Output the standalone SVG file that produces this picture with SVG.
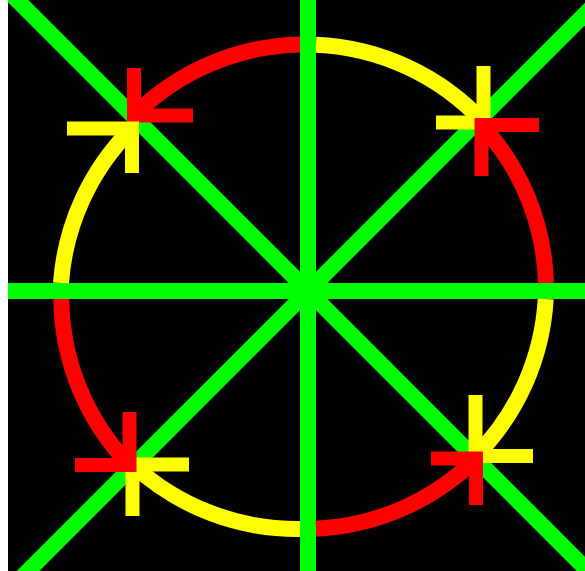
<svg xmlns="http://www.w3.org/2000/svg" width="585" height="571" viewBox="0 0 585 571">
  <style>
    .axis { stroke: #00ff00; stroke-width: 16; fill: none; }
    .arc { stroke-width: 16; fill: none; }
    .head { stroke-width: 14; fill: none; stroke-linejoin: miter; stroke-linecap: butt; }
    .red { stroke: #ff0000; }
    .yellow { stroke: #ffff00; }
  </style>
  <defs>
    <clipPath id="frame">
      <rect x="8" y="0" width="577" height="571"/>
    </clipPath>
  </defs>
  <rect x="0" y="0" width="585" height="571" fill="#ffffff"/>
  <rect id="background" x="8" y="0" width="577" height="571" fill="#000000"/>
  <g id="axes" clip-path="url(#frame)">
    <line class="axis" x1="308" y1="-10" x2="308" y2="581"/>
    <line class="axis" x1="0" y1="291" x2="595" y2="291"/>
    <line class="axis" x1="7" y1="-10" x2="598" y2="581"/>
    <line class="axis" x1="609" y1="-10" x2="18" y2="581"/>
  </g>
  <g id="connectors">
    <g id="top-left-red">
      <path class="arc red" d="M300,44.5 A242.5,242.5 0 0 0 134,115.5"/>
      <polyline class="head red" points="134,68 134,115.5 193,115.5"/>
    </g>
    <g id="top-right-yellow">
      <path class="arc yellow" d="M316,44.8 A242.5,242.5 0 0 1 483.5,122.5"/>
      <polyline class="head yellow" points="483.5,66 483.5,122.5 436,122.5"/>
    </g>
    <g id="right-up-red">
      <path class="arc red" d="M546,283 A242.5,242.5 0 0 0 481.5,125"/>
      <polyline class="head red" points="539,125 481.5,125 481.5,176"/>
    </g>
    <g id="right-down-yellow">
      <path class="arc yellow" d="M545.7,299 A242.5,242.5 0 0 1 475.5,456"/>
      <polyline class="head yellow" points="475.5,395 475.5,456 533,456"/>
    </g>
    <g id="bottom-right-red">
      <path class="arc red" d="M316,528.7 A242.5,242.5 0 0 0 476,458.5"/>
      <polyline class="head red" points="431,458.5 476,458.5 476,505"/>
    </g>
    <g id="bottom-left-yellow">
      <path class="arc yellow" d="M300,529 A242.5,242.5 0 0 1 132.5,464.5"/>
      <polyline class="head yellow" points="189,464.5 132.5,464.5 132.5,516"/>
    </g>
    <g id="left-down-red">
      <path class="arc red" d="M61.3,299 A242.5,242.5 0 0 0 129.5,465"/>
      <polyline class="head red" points="129.5,412 129.5,465 75,465"/>
    </g>
    <g id="left-up-yellow">
      <path class="arc yellow" d="M61,283 A242.5,242.5 0 0 1 132,128.5"/>
      <polyline class="head yellow" points="67,128.5 132,128.5 132,173"/>
    </g>
  </g>
</svg>
